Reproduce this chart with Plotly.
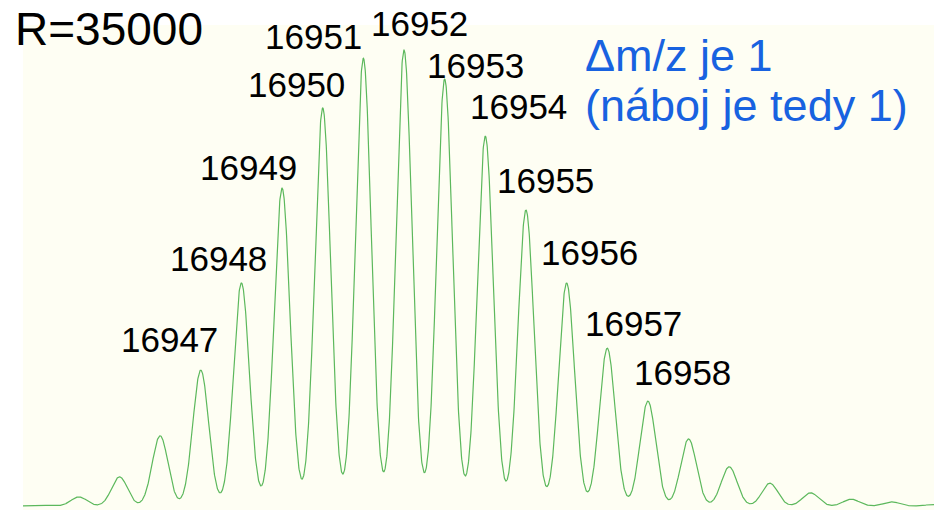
import numpy as np
import plotly.graph_objects as go

# ---- data ----
mz_peaks = [16943, 16944, 16945, 16946, 16947, 16948, 16949, 16950, 16951, 16952,
            16953, 16954, 16955, 16956, 16957, 16958, 16959, 16960, 16961, 16962,
            16963, 16964, 16965]
intensity = [0.2, 2.0, 6.4, 15.4, 29.8, 48.9, 69.7, 87.3, 98.2, 100.0,
             93.6, 81.1, 64.9, 48.9, 34.6, 23.0, 14.7, 8.6, 5.0, 2.9,
             1.5, 0.9, 0.3]
peak_fwhm = 0.46  # Da, apparent peak width

labelled = [16947, 16948, 16949, 16950, 16951, 16952, 16953, 16954, 16955, 16956, 16957, 16958]
resolution_text = "R=35000"
note_lines = ["\u0394m/z je 1", "(náboj je tedy 1)"]

# ---- profile spectrum from the peak list ----
sigma = peak_fwhm / 2.3548
x_lo, x_hi = 16942.627, 16965.038
mz = np.linspace(x_lo, x_hi, 4000)
prof = np.zeros_like(mz)
for m, h in zip(mz_peaks, intensity):
    prof += h * np.exp(-0.5 * ((mz - m) / sigma) ** 2)

fig = go.Figure()
fig.add_trace(go.Scatter(x=mz, y=prof, mode="lines",
                         line=dict(color="#5cb85c", width=1.2),
                         hoverinfo="skip", showlegend=False))

# label offsets in pixels (dx right, dy up) relative to each peak top
label_offsets = {16947: (-31, 30), 16948: (-23, 24), 16949: (-34, 20), 16950: (-26, 22),
                 16951: (-50, 21), 16952: (15, 26), 16953: (31, 13), 16954: (33, 29),
                 16955: (20, 29), 16956: (23, 30), 16957: (26, 24), 16958: (35, 28)}
for m in labelled:
    h = intensity[mz_peaks.index(m)]
    dx, dy = label_offsets[m]
    fig.add_annotation(x=m, y=h, xref="x", yref="y", text=str(m), showarrow=False,
                       xanchor="center", yanchor="middle", xshift=dx, yshift=dy + 1,
                       font=dict(family="Liberation Sans, Arial", size=35, color="black"))

L, T, W, H = 23, 25, 934, 510
pw, ph = W - L, H - T
def px(xp):
    return (xp - L) / pw
def py(yp):
    return (H - yp) / ph

fig.add_annotation(x=px(13), y=py(29), xref="paper", yref="paper", text=resolution_text,
                   showarrow=False, xanchor="left", yanchor="middle",
                   font=dict(family="Liberation Sans, Arial", size=46, color="black"))
fig.add_annotation(x=px(583), y=py(55), xref="paper", yref="paper", text=note_lines[0],
                   showarrow=False, xanchor="left", yanchor="middle",
                   font=dict(family="Liberation Sans, Arial", size=45, color="#1862e0"))
fig.add_annotation(x=px(583), y=py(106), xref="paper", yref="paper", text=note_lines[1],
                   showarrow=False, xanchor="left", yanchor="middle",
                   font=dict(family="Liberation Sans, Arial", size=45, color="#1862e0"))

fig.update_layout(
    width=W, height=H,
    margin=dict(l=L, r=0, t=T, b=0),
    paper_bgcolor="white", plot_bgcolor="#fefef3",
    xaxis=dict(range=[x_lo, x_hi], visible=False, showgrid=False, zeroline=False),
    yaxis=dict(range=[-4 / 4.56, 481 / 4.56], visible=False, showgrid=False, zeroline=False),
    showlegend=False,
)
fig.write_html("out.html", config={"displayModeBar": False},
               post_script="document.body.style.margin='0';document.body.style.overflow='hidden';")
